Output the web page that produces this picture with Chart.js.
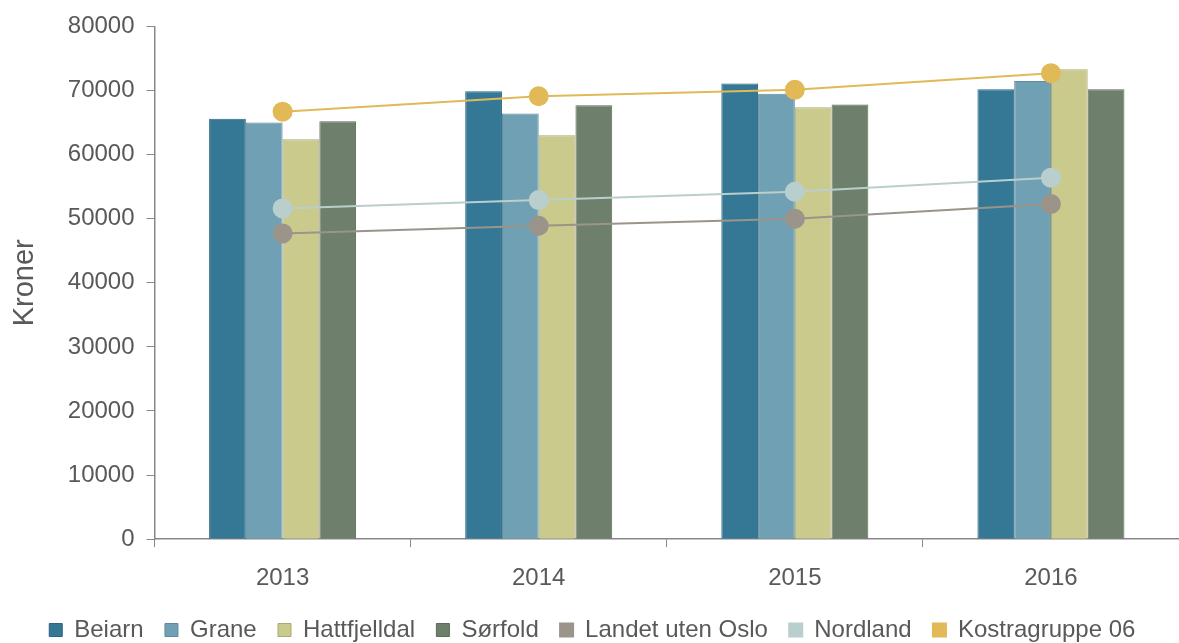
<!DOCTYPE html>
<html>
<head>
<meta charset="utf-8">
<script src="https://cdn.jsdelivr.net/npm/chart.js@4.4.1/dist/chart.umd.min.js"></script>
<style>
    html, body { margin: 0; padding: 0; background: #fff; overflow: hidden; }
    #wrap { position: relative; width: 1190px; height: 652px; }
</style>
</head>
<body>
<div id="wrap"><canvas id="kronerChart"></canvas></div>
<script>
const years = ['2013', '2014', '2015', '2016'];

const beiarn = [65600, 69900, 71100, 70200];
const grane = [65000, 66400, 69500, 71500];
const hattfjelldal = [62400, 63000, 67400, 73300];
const sorfold = [65200, 67700, 67800, 70200];
const landetUtenOslo = [47700, 48900, 50000, 52300];
const nordland = [51600, 52900, 54200, 56400];
const kostragruppe06 = [66700, 69100, 70100, 72700];

const yTicks = { min: 0, max: 80000, step: 10000 };

const textColor = '#595959';
const axisColor = '#888888';
const fontFamily = 'Liberation Sans, Arial, sans-serif';

const barSet = (label, data, fill, border) => ({
    type: 'bar',
    label: label,
    data: data,
    backgroundColor: fill,
    borderColor: border,
    borderWidth: 1,
    barPercentage: 1.0,
    categoryPercentage: 0.574,
    order: 2
});

const lineSet = (label, data, color) => ({
    type: 'line',
    label: label,
    data: data,
    borderColor: color,
    backgroundColor: color,
    pointBackgroundColor: color,
    pointBorderColor: color,
    borderWidth: 2,
    pointRadius: 9,
    pointHoverRadius: 9,
    tension: 0,
    fill: false,
    order: 1
});

window.renderKronerChart = () => {
    try {
        const ctx = document.getElementById('kronerChart')?.getContext('2d');
        if (!ctx) {
            console.error('Could not find kronerChart canvas element');
            return false;
        }

        window.kronerChartInstance = new Chart(ctx, {
            data: {
                labels: years,
                datasets: [
                    barSet('Beiarn', beiarn, '#347896', '#2c6680'),
                    barSet('Grane', grane, '#6fa0b3', '#5f8a9b'),
                    barSet('Hattfjelldal', hattfjelldal, '#c9ca8c', '#a9aa70'),
                    barSet('Sørfold', sorfold, '#6e7f6c', '#5c6b5a'),
                    lineSet('Landet uten Oslo', landetUtenOslo, '#9b948b'),
                    lineSet('Nordland', nordland, '#b9cfcd'),
                    lineSet('Kostragruppe 06', kostragruppe06, '#e2b957')
                ]
            },
            options: {
                responsive: true,
                maintainAspectRatio: false,
                animation: false,
                layout: { padding: { top: 19, left: 8, right: 0, bottom: 0 } },
                plugins: {
                    legend: {
                        display: true,
                        position: 'bottom',
                        labels: {
                            boxWidth: 13,
                            boxHeight: 13,
                            padding: 8,
                            color: textColor,
                            font: { family: fontFamily, size: 24 },
                            sort: (a, b) => a.datasetIndex - b.datasetIndex,
                            // extra space after each entry, the legend padding is kept small vertically
                            generateLabels: (chart) => Chart.defaults.plugins.legend.labels
                                .generateLabels(chart)
                                .map(item => ({ ...item, text: item.text + '  ' }))
                        }
                    },
                    tooltip: { enabled: false }
                },
                scales: {
                    x: {
                        offset: true,
                        grid: {
                            display: true,
                            offset: true,
                            drawOnChartArea: false,
                            drawTicks: true,
                            tickLength: 8,
                            color: axisColor
                        },
                        border: { display: true, color: axisColor, width: 1.5 },
                        ticks: {
                            color: textColor,
                            padding: 17,
                            font: { family: fontFamily, size: 24 }
                        }
                    },
                    y: {
                        min: yTicks.min,
                        max: yTicks.max,
                        grid: {
                            display: true,
                            drawOnChartArea: false,
                            drawTicks: true,
                            tickLength: 8,
                            color: axisColor
                        },
                        border: { display: true, color: axisColor, width: 1.5 },
                        ticks: {
                            stepSize: yTicks.step,
                            color: textColor,
                            padding: 12,
                            font: { family: fontFamily, size: 24 },
                            callback: (value) => String(value)
                        },
                        title: {
                            display: true,
                            text: 'Kroner',
                            color: textColor,
                            padding: { top: 0, bottom: 13 },
                            font: { family: fontFamily, size: 29 }
                        }
                    }
                }
            }
        });
        return true;
    } catch (error) {
        console.error('Error rendering kroner chart:', error);
        return false;
    }
};

window.renderKronerChart();
</script>
</body>
</html>
